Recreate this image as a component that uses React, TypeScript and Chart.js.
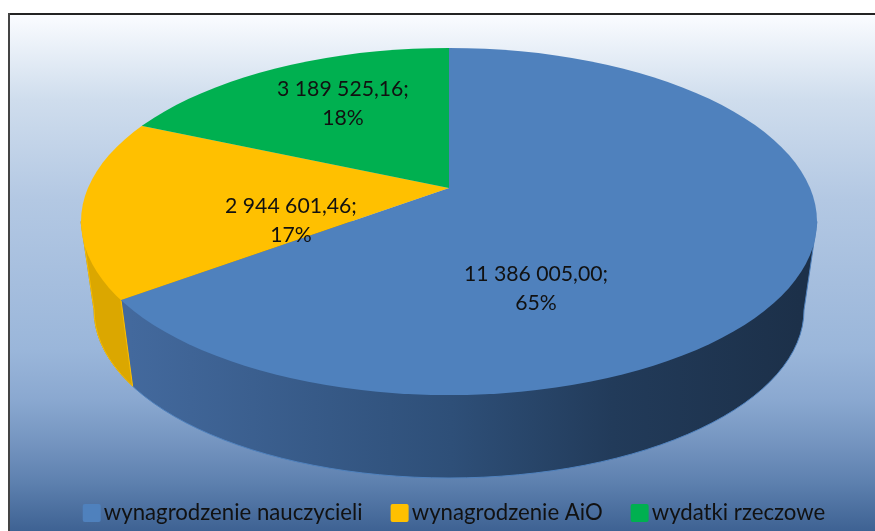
import React, { useEffect, useRef } from "react";
import { Chart, registerables } from "chart.js";

Chart.register(...registerables);

const categories = ["wynagrodzenie nauczycieli", "wynagrodzenie AiO", "wydatki rzeczowe"];
const amounts = [11386005.0, 2944601.46, 3189525.16];
const sliceColors = ["#4f81bd", "#ffc000", "#00b050"];

const FONT = "Lato, Carlito, sans-serif";
const apex = { x: 449, y: 188 };
const rim = { x: 449, y: 221.5, rx: 368, ry: 173.5 };
const base = { x: 449, y: 310, rx: 355, ry: 168 };
const tiltUpper = 0.445;
const tiltLower = 0.47;
const labelCentres = [
  { x: 536, y: 289 },
  { x: 291, y: 221 },
  { x: 343, y: 104 },
];

function formatAmount(v: number) {
  const [whole, frac] = v.toFixed(2).split(".");
  return whole.replace(/\B(?=(\d{3})+$)/g, " ") + "," + frac + ";";
}

function rimPoint(angle: number) {
  const dx = Math.cos(angle);
  const sy = Math.sin(angle);
  const dy = sy * (sy < 0 ? tiltUpper : tiltLower);
  const ox = (apex.x - rim.x) / rim.rx;
  const oy = (apex.y - rim.y) / rim.ry;
  const ax = dx / rim.rx;
  const ay = dy / rim.ry;
  const a = ax * ax + ay * ay;
  const b = 2 * (ox * ax + oy * ay);
  const c = ox * ox + oy * oy - 1;
  const t = (-b + Math.sqrt(b * b - 4 * a * c)) / (2 * a);
  return { x: apex.x + t * dx, y: apex.y + t * dy };
}

const pie3d = {
  id: "pie3d",
  beforeDraw(chart: any) {
    const { ctx } = chart;
    ctx.save();
    ctx.fillStyle = "#ffffff";
    ctx.fillRect(0, 0, chart.width, chart.height);
    const g = ctx.createLinearGradient(0, 15, 0, 531);
    const stop = (y: number, c: string) => g.addColorStop((y - 15) / 516, c);
    stop(15, "#fafcff");
    stop(100, "#cfdded");
    stop(200, "#b3c8e3");
    stop(350, "#9ab6da");
    stop(400, "#8aa8d0");
    stop(440, "#7696c1");
    stop(480, "#5f82b0");
    stop(531, "#3e6293");
    ctx.fillStyle = g;
    ctx.fillRect(10, 15, chart.width - 10, chart.height - 15);
    ctx.fillStyle = "#232323";
    ctx.fillRect(8, 13, chart.width - 8, 2);
    ctx.fillStyle = "#444444";
    ctx.fillRect(8, 13, 2, chart.height - 13);
    ctx.restore();
  },
  beforeDatasetDraw() {
    return false;
  },
  afterDatasetsDraw(chart: any) {
    const { ctx } = chart;
    const arcs = chart.getDatasetMeta(0).data;

    const silhouette = () => {
      ctx.beginPath();
      ctx.moveTo(rim.x + rim.rx, rim.y);
      ctx.lineTo(base.x + base.rx, base.y);
      ctx.ellipse(base.x, base.y, base.rx, base.ry, 0, 0, Math.PI);
      ctx.lineTo(rim.x - rim.rx, rim.y);
      ctx.closePath();
    };

    // side wall
    const p = rimPoint(arcs[0].endAngle);
    const u = (p.x - rim.x) / rim.rx;
    const q = {
      x: base.x + u * base.rx,
      y: base.y + Math.sqrt(1 - u * u) * base.ry,
    };
    ctx.save();
    const wall = ctx.createLinearGradient(130, 0, 800, 0);
    wall.addColorStop(0, "#43699d");
    wall.addColorStop(0.48, "#2e4f78");
    wall.addColorStop(0.72, "#223b5a");
    wall.addColorStop(1, "#1c3049");
    silhouette();
    ctx.fillStyle = wall;
    ctx.fill();
    ctx.strokeStyle = "#4f81bd";
    ctx.lineWidth = 1;
    ctx.stroke();
    ctx.save();
    ctx.beginPath();
    ctx.moveTo(0, 0);
    ctx.lineTo(p.x, 0);
    ctx.lineTo(p.x, p.y);
    ctx.lineTo(q.x, q.y);
    ctx.lineTo(q.x, 531);
    ctx.lineTo(0, 531);
    ctx.closePath();
    ctx.clip();
    silhouette();
    ctx.fillStyle = "#dba700";
    ctx.fill();
    ctx.strokeStyle = "#ffc000";
    ctx.stroke();
    ctx.restore();
    ctx.beginPath();
    ctx.moveTo(p.x, p.y);
    ctx.lineTo(q.x, q.y);
    ctx.strokeStyle = "#ffc000";
    ctx.stroke();
    ctx.restore();

    // top surface: the library's own arcs, tilted and cut to the rim
    const first = arcs[0];
    const k = 900 / first.outerRadius;
    const drawPart = (top: number, bottom: number, tilt: number) => {
      ctx.save();
      ctx.beginPath();
      ctx.rect(0, top, chart.width, bottom - top);
      ctx.clip();
      ctx.beginPath();
      ctx.ellipse(rim.x, rim.y, rim.rx, rim.ry, 0, 0, Math.PI * 2);
      ctx.clip();
      ctx.translate(apex.x, apex.y);
      ctx.scale(k, k * tilt);
      ctx.translate(-first.x, -first.y);
      arcs.forEach((a: any) => a.draw(ctx));
      ctx.restore();
    };
    drawPart(0, apex.y, tiltUpper);
    drawPart(apex.y, chart.height, tiltLower);
  },
  afterDraw(chart: any) {
    const { ctx } = chart;
    const total = amounts.reduce((s, v) => s + v, 0);
    ctx.save();
    ctx.fillStyle = "#111111";
    ctx.font = `21.2px ${FONT}`;
    ctx.textAlign = "center";
    ctx.textBaseline = "middle";
    amounts.forEach((v, i) => {
      const c = labelCentres[i];
      ctx.fillText(formatAmount(v), c.x, c.y - 14.5);
      ctx.fillText(Math.round((v / total) * 100) + "%", c.x, c.y + 14.5);
    });
    // legend swatches, placed on the legend's own item boxes
    chart.legend.legendHitBoxes.forEach((b: any, i: number) => {
      ctx.beginPath();
      ctx.roundRect(b.left, b.top + b.height / 2 - 9, 18, 18, 2);
      ctx.fillStyle = sliceColors[i];
      ctx.fill();
    });
    ctx.restore();
  },
};

export default function App() {
  const ref = useRef<HTMLCanvasElement>(null);
  useEffect(() => {
    document.body.style.margin = "0";
    const chart = new Chart(ref.current!, {
      type: "pie",
      data: {
        labels: categories,
        datasets: [{ data: amounts, backgroundColor: sliceColors, borderWidth: 0 }],
      },
      options: {
        animation: false,
        responsive: false,
        layout: { padding: { left: 33 } },
        plugins: {
          tooltip: { enabled: false },
          legend: {
            position: "bottom",
            labels: {
              boxWidth: 10,
              boxHeight: 18,
              padding: 28,
              color: "#111111",
              font: { family: FONT, size: 22.2 },
              generateLabels: (c: any) =>
                Chart.overrides.pie.plugins.legend.labels.generateLabels(c).map((it: any) => ({
                  ...it,
                  fillStyle: "rgba(0,0,0,0)",
                  strokeStyle: "rgba(0,0,0,0)",
                  lineWidth: 0,
                })),
            },
          },
        },
      },
      plugins: [pie3d],
    } as any);
    return () => chart.destroy();
  }, []);
  return (
    <div style={{ width: 875, height: 531, overflow: "hidden" }}>
      <canvas ref={ref} width={875} height={534} style={{ display: "block" }} />
    </div>
  );
}
